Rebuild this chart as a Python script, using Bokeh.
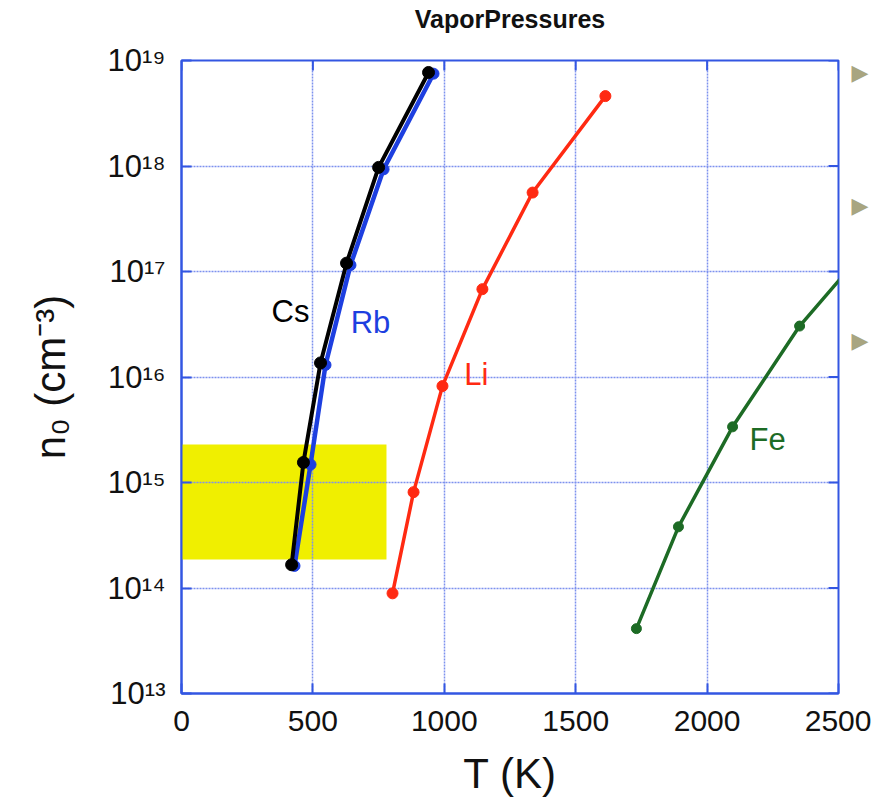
import math
from bokeh.plotting import figure
from bokeh.models import Range1d, FixedTicker, Label, BoxAnnotation, LogAxis, LinearAxis
from bokeh.embed import file_html
from bokeh.resources import INLINE

# ---- data ----
cs_T = [419, 464, 529, 628, 750, 940]
cs_n = [1.66e14, 1.55e15, 1.36e16, 1.20e17, 9.7e17, 7.7e18]

rb_T = [430, 491, 548, 643, 769, 959]
rb_n = [1.62e14, 1.48e15, 1.30e16, 1.15e17, 9.3e17, 7.5e18]

li_T = [803, 883, 993, 1145, 1336, 1613]
li_n = [8.9e13, 8.1e14, 8.2e15, 6.8e16, 5.6e17, 4.6e18]

fe_T = [1731, 1891, 2097, 2352, 2650]
fe_n = [4.12e13, 3.8e14, 3.37e15, 3.04e16, 2.2e17]

x_ticks = [0, 500, 1000, 1500, 2000, 2500]
y_exps = [13, 14, 15, 16, 17, 18, 19]
y_ticks = [10.0 ** e for e in y_exps]
SUP = str.maketrans("0123456789", "⁰¹²³⁴⁵⁶⁷⁸⁹")
y_labels = ["10" + str(e).translate(SUP) for e in y_exps]

BLUE = "#3356e2"
GRID = "#7d91ee"
FONT = "Liberation Sans"

p = figure(width=871, height=799, x_range=Range1d(0, 2500), y_range=Range1d(1e13, 1e19),
           y_axis_type="log", output_backend="svg", toolbar_location=None,
           min_border_left=181, min_border_right=33, min_border_top=60, min_border_bottom=105)

p.outline_line_color = BLUE
p.outline_line_width = 2
p.background_fill_color = "white"
p.border_fill_color = "white"

# grids
for g in (p.xgrid, p.ygrid):
    g.grid_line_color = GRID
    g.grid_line_dash = "2 1"
    g.grid_line_width = 1.5
p.xgrid.ticker = FixedTicker(ticks=x_ticks)
p.ygrid.ticker = FixedTicker(ticks=y_ticks)

def style_axis(ax):
    ax.axis_line_color = BLUE
    ax.axis_line_width = 2
    ax.major_tick_line_color = BLUE
    ax.major_tick_line_width = 2
    ax.major_tick_in = 10
    ax.major_tick_out = 0
    ax.minor_tick_line_color = None
    ax.major_label_text_font = FONT
    ax.major_label_text_color = "#111111"
    ax.axis_label_text_font = FONT
    ax.axis_label_text_font_style = "normal"
    ax.axis_label_text_color = "#111111"

xa = p.below[0]
style_axis(xa)
xa.ticker = FixedTicker(ticks=x_ticks)
xa.major_label_text_font_size = "30px"
xa.major_label_standoff = 17
xa.axis_label = "T (K)"
xa.axis_label_text_font_size = "42px"
xa.axis_label_standoff = 16

ya = p.left[0]
style_axis(ya)
ya.ticker = FixedTicker(ticks=y_ticks)
ya.major_label_overrides = dict(zip(y_ticks, y_labels))
ya.major_label_text_font_size = "31px"
ya.major_label_text_baseline = "alphabetic"
ya.major_label_standoff = 16
ya.axis_label = "n₀ (cm⁻³)"
ya.axis_label_text_font_size = "42px"
ya.axis_label_standoff = 30

# chart title, drawn as the label of a tick-less top axis so it sits near the top edge
top = LinearAxis(ticker=FixedTicker(ticks=[]))
top.axis_line_color = None
top.major_tick_line_color = None
top.minor_tick_line_color = None
top.major_tick_in = 0
top.major_tick_out = 0
top.major_label_standoff = 0
top.axis_label = "VaporPressures"
top.axis_label_text_font = FONT
top.axis_label_text_font_size = "25px"
top.axis_label_text_font_style = "bold"
top.axis_label_text_color = "#111111"
top.axis_label_standoff = 28
p.add_layout(top, "above")

# inward ticks on the top and right frame edges
p.ray(x=x_ticks, y=[y_ticks[-1]] * len(x_ticks), length=10, length_units="screen",
      angle=-math.pi / 2, line_color=BLUE, line_width=2)
p.ray(x=[x_ticks[-1]] * len(y_ticks), y=y_ticks, length=10, length_units="screen",
      angle=math.pi, line_color=BLUE, line_width=2)

# yellow highlight box (slide overlay)
p.add_layout(BoxAnnotation(left=-137, right=780, bottom=10 ** 14.27, top=10 ** 15.36,
                           fill_color="#f0ef00", fill_alpha=1.0, line_color=None,
                           level="image"))

# series
series = [
    (rb_T, rb_n, "#1d3fe0", 4.5, 11),
    (cs_T, cs_n, "#000000", 4, 12),
    (li_T, li_n, "#ff2a12", 3.5, 11),
    (fe_T, fe_n, "#1d6b25", 3.5, 10),
]
for T, n, c, lw, ms in series:
    p.line(T, n, line_color=c, line_width=lw)
    p.scatter(T, n, marker="circle", size=ms, fill_color=c, line_color=c)

labels = [
    ("Cs", 415, 10 ** 16.62, "#000000"),
    ("Rb", 719, 10 ** 16.52, "#1d3fe0"),
    ("Li", 1122, 10 ** 16.02, "#ff2a12"),
    ("Fe", 2230, 10 ** 15.41, "#1d6b25"),
]
for t, x, y, c in labels:
    p.add_layout(Label(x=x, y=y, text=t, text_font=FONT, text_font_size="31px",
                       text_align="center", text_baseline="middle", text_color=c))

# slide bullets to the right of the chart
bullet_y = [10 ** 18.886, 10 ** 17.628, 10 ** 16.35]
bullets = LogAxis(ticker=FixedTicker(ticks=bullet_y),
                  major_label_overrides={v: "▶" for v in bullet_y})
bullets.axis_line_color = None
bullets.major_tick_line_color = None
bullets.minor_tick_line_color = None
bullets.major_tick_in = 0
bullets.major_tick_out = 0
bullets.major_label_standoff = 13
bullets.major_label_text_font = "DejaVu Sans"
bullets.major_label_text_font_size = "22px"
bullets.major_label_text_color = "#a8a581"
p.add_layout(bullets, "right")

open("out.html", "w").write(file_html(p, INLINE))
